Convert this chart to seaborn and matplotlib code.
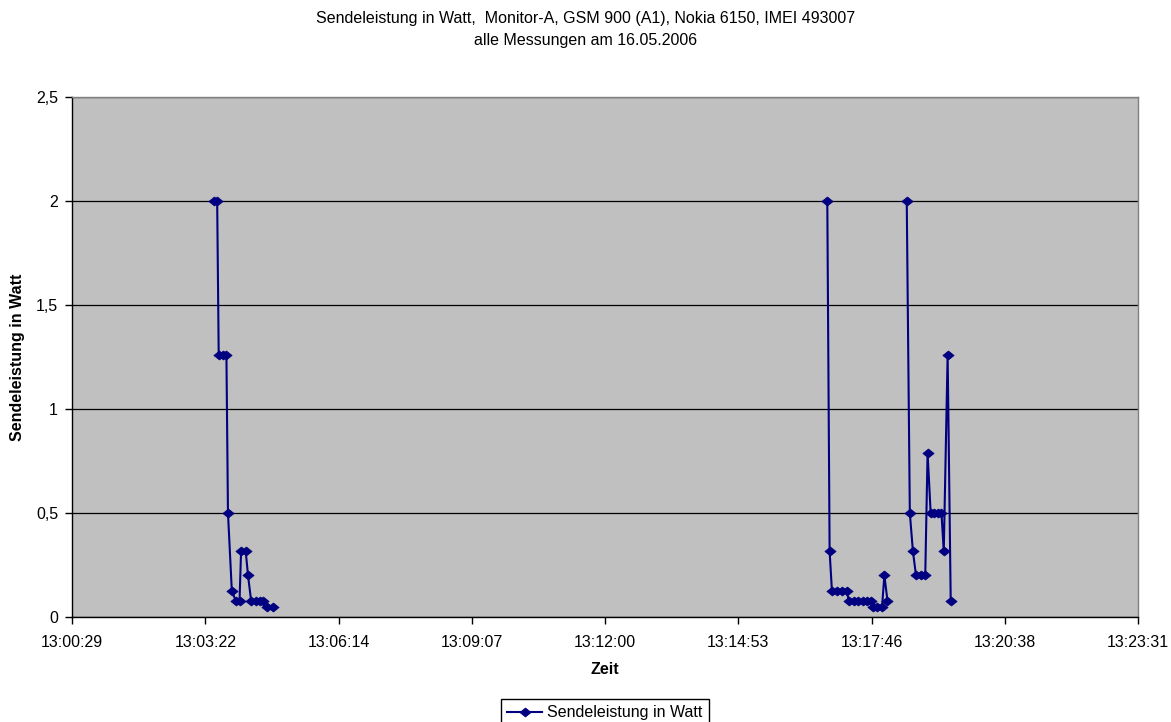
import numpy as np
import pandas as pd
import seaborn as sns
import matplotlib
matplotlib.use("Agg")
import matplotlib.pyplot as plt
from matplotlib.path import Path
from matplotlib.ticker import FixedLocator, FixedFormatter

# Measurement times (hh:mm:ss) of the three measurement runs
zeit = [
    "13:03:33", "13:03:37", "13:03:39", "13:03:44", "13:03:49", "13:03:51", "13:03:56",
    "13:04:01", "13:04:06", "13:04:08", "13:04:14", "13:04:17", "13:04:21", "13:04:27",
    "13:04:32", "13:04:37", "13:04:42", "13:04:49",
    "13:16:48", "13:16:51", "13:16:54", "13:17:00", "13:17:07", "13:17:13", "13:17:16",
    "13:17:22", "13:17:28", "13:17:34", "13:17:39", "13:17:45", "13:17:47", "13:17:53",
    "13:17:59", "13:18:02", "13:18:06",
    "13:18:31", "13:18:35", "13:18:39", "13:18:43", "13:18:49", "13:18:55", "13:18:58",
    "13:19:02", "13:19:06", "13:19:11", "13:19:16", "13:19:19", "13:19:24", "13:19:28",
]

# Transmit power in watts (GSM power control steps)
watt = [
    2.0, 2.0, 1.26, 1.26, 1.26, 0.5, 0.126, 0.079, 0.079, 0.316, 0.316, 0.2,
    0.079, 0.079, 0.079, 0.079, 0.05, 0.05,
    2.0, 0.316, 0.126, 0.126, 0.126, 0.126, 0.079, 0.079, 0.079, 0.079, 0.079,
    0.079, 0.05, 0.05, 0.05, 0.2, 0.079,
    2.0, 0.5, 0.316, 0.2, 0.2, 0.2, 0.79, 0.5, 0.5, 0.5, 0.5, 0.316, 1.26, 0.079,
]

# Run number of each reading (runs are drawn as separate, unconnected lines)
messreihe = [1] * 18 + [2] * 17 + [3] * 14

x_tick_labels = ["13:00:29", "13:03:22", "13:06:14", "13:09:07", "13:12:00",
                 "13:14:53", "13:17:46", "13:20:38", "13:23:31"]
y_ticks = [0, 0.5, 1, 1.5, 2, 2.5]
y_tick_labels = ["0", "0,5", "1", "1,5", "2", "2,5"]

series_name = "Sendeleistung in Watt"
title_lines = ["Sendeleistung in Watt,  Monitor-A, GSM 900 (A1), Nokia 6150, IMEI 493007",
               "alle Messungen am 16.05.2006"]

df = pd.DataFrame({
    "sekunden": pd.to_timedelta(zeit).total_seconds(),
    "watt": watt,
    "messreihe": messreihe,
})

# Axis runs from 13:00:28.8 in steps of 0.002 day (172.8 s)
x_start = 13 * 3600 + 28.8
x_step = 172.8
x_ticks = [x_start + i * x_step for i in range(len(x_tick_labels))]

plt.rcParams["font.family"] = ["Liberation Sans", "DejaVu Sans"]

W, H = 1171, 722
fig = plt.figure(figsize=(W / 100, H / 100), dpi=100)
fig.patch.set_facecolor("white")
ax = fig.add_axes([72 / W, 1 - 617 / H, (1138.3 - 72) / W, 520 / H])
ax.set_facecolor("#C0C0C0")

navy = "#000080"
diamond = Path([(0, 0.8), (1, 0), (0, -0.8), (-1, 0), (0, 0.8)],
               [Path.MOVETO, Path.LINETO, Path.LINETO, Path.LINETO, Path.CLOSEPOLY])

sns.lineplot(data=df, x="sekunden", y="watt", units="messreihe", estimator=None,
             sort=False, color=navy, linewidth=1.5, marker=diamond, markersize=8,
             markeredgecolor=navy, markerfacecolor=navy, markeredgewidth=0.6,
             legend=False, ax=ax)

ax.set_xlim(x_ticks[0], x_ticks[-1])
ax.set_ylim(0, 2.5)
ax.xaxis.set_major_locator(FixedLocator(x_ticks))
ax.xaxis.set_major_formatter(FixedFormatter(x_tick_labels))
ax.yaxis.set_major_locator(FixedLocator(y_ticks))
ax.yaxis.set_major_formatter(FixedFormatter(y_tick_labels))

ax.yaxis.grid(True, color="black", linewidth=0.9)
ax.xaxis.grid(False)
ax.set_axisbelow(True)

for side in ("left", "bottom"):
    ax.spines[side].set_color("black")
    ax.spines[side].set_linewidth(1.0)
for side in ("top", "right"):
    ax.spines[side].set_color("#808080")
    ax.spines[side].set_linewidth(1.0)

ax.tick_params(axis="both", direction="out", length=5, width=1, color="black",
               labelsize=11.5, labelcolor="black")
ax.tick_params(axis="x", pad=8)
ax.tick_params(axis="y", pad=5)

ax.set_xlabel("Zeit", fontsize=11.5, fontweight="bold")
ax.set_ylabel("Sendeleistung in Watt", fontsize=11.5, fontweight="bold")
ax.xaxis.set_label_coords(0.5, (617 - 670) / 520)
ax.xaxis.label.set_va("center")
ax.yaxis.set_label_coords((18 - 72) / 1066.3, 0.5)
ax.yaxis.label.set_va("center")

fig.text(0.5, 1 - 18 / H, title_lines[0], ha="center", va="center", fontsize=11.5)
fig.text(0.5, 1 - 40 / H, title_lines[1], ha="center", va="center", fontsize=11.5)

leg = ax.legend([ax.lines[0]], [series_name], loc="upper center",
                bbox_to_anchor=(605 / W, 1 - 699 / H), bbox_transform=fig.transFigure,
                fontsize=11.5, frameon=True, fancybox=False, framealpha=1,
                edgecolor="black", facecolor="white", borderpad=0.4,
                handlelength=2.2, handletextpad=0.3, borderaxespad=0)
leg.get_frame().set_linewidth(1.0)

fig.savefig("out.png", dpi=100)
